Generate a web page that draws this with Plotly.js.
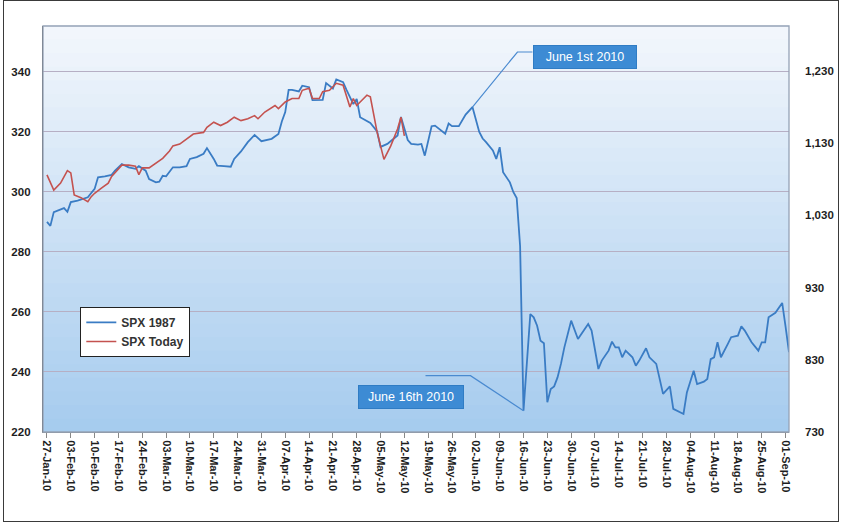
<!DOCTYPE html>
<html>
<head>
<meta charset="utf-8">
<script src="https://cdn.plot.ly/plotly-3.0.1.min.js"></script>
<style>
  body { margin: 0; background: #fff; }
  #chart { position: absolute; left: 0; top: 0; width: 853px; height: 527px; }
  #frame { position: absolute; left: 3px; top: 0; width: 834px; height: 520px;
           border: 1.5px solid #3a3a3a; pointer-events: none; }
</style>
</head>
<body>
<div id="chart"></div>
<div id="frame"></div>
<script>
// days counted from 27-Jan-2010
const startDate = [2010, 0, 27];

const blueName = 'SPX 1987';
const blueDay = [0,1,2,4,5,6,7,9,11,12,
  14,15,17,19,20,22,24,26,27,29,
  30,32,33,34,35,37,39,41,42,44,
  46,47,49,50,52,54,55,57,59,61,
  63,64,66,68,69,70,71,72,74,75,
  77,78,81,82,84,85,87,88,90,91,
  92,95,97,98,100,103,104,106,107,109,
  110,111,113,114,117,118,119,121,123,125,
  127,128,129,131,132,133,134,136,137,138,
  139,140,142,143,144,145,146,147,148,149,
  150,151,152,154,155,156,157,159,160,162,
  163,165,166,167,168,169,170,172,173,174,
  176,177,179,181,183,184,187,188,190,191,
  193,194,195,196,197,198,200,201,203,204,
  205,207,209,210,211,212,214,215,216,217,
  218];
const blueVal = [290,288.7,293.3,294.3,294.6,293.4,296.6,297.1,297.9,298.2,
  301,304.9,305.2,305.7,307.1,309.3,308.2,307.7,308.6,307.1,
  304.3,303.2,303.4,305.4,305.2,308.2,308.2,308.6,311,311.6,
  312.7,314.6,311,308.8,308.6,308.4,311,313.5,316.6,319,
  316.9,317.1,317.7,319.3,323.5,326.6,334,334,333.5,335.4,
  334.9,330.6,330.7,336.3,334.5,337.5,336.6,334,329.3,331,
  324.9,323,320.2,315,316,318.8,325,317.3,316,315.8,
  316,312.1,321.9,322.1,319.4,322.8,321.9,321.9,325.8,328.3,
  320,317.8,316.6,313.8,311,314.9,306.6,303.2,300,298,
  282,227.1,259.3,258.2,255.4,250.4,249.6,229.9,234.3,235.2,
  238.2,242.7,248.2,257.1,254.3,251,252.7,256,253.8,241,
  243.8,247.1,250.1,248.2,248.2,244.9,247.1,244.9,242.1,243.8,
  247.9,244.9,242.7,232.7,235.2,227.7,226,233.2,240.4,236,
  236.8,237.7,244.3,244.9,249.9,244.9,249.3,251.6,252.1,255.2,
  253.8,249.9,247.1,249.9,249.9,258.2,259.7,261.2,263,255,
  246.6];

const redName = 'SPX Today';
const redDay = [0,2,4,6,7,8,10,12,13,14,
  16,18,19,22,24,26,27,28,30,32,
  34,36,37,39,41,43,46,47,49,51,
  53,55,57,59,61,62,64,67,68,70,
  72,74,75,77,78,80,81,83,85,87,
  89,90,91,94,95,97,99,101,103,104,
  105];
const redVal = [1086,1065,1074.5,1091.9,1088.6,1058.2,1054.4,1048.8,1055.8,1060.5,
  1067.5,1074.5,1083.9,1099.4,1099.4,1098,1086.3,1095.6,1095.6,1102.6,
  1108.8,1119,1126,1128.5,1135.5,1142.5,1144.7,1151.8,1158.8,1154.2,
  1158.8,1165.8,1161,1163.6,1168,1163.6,1172.9,1182,1177.6,1186.9,
  1191.6,1191.6,1203,1205.7,1191.6,1191.6,1201,1203,1212.7,1210,
  1179.9,1191.6,1182,1196.3,1194,1144.7,1107.4,1126,1149.5,1165.8,
  1140];

const peakDay = 125;    // June 1st 2010
const troughDay = 140;  // June 16th 2010
const peakText = 'June 1st 2010';
const troughText = 'June 16th 2010';

const toDate = d => new Date(Date.UTC(startDate[0], startDate[1], startDate[2] + d))
  .toISOString().slice(0, 10);

const peakVal = blueVal[blueDay.indexOf(peakDay)];
const troughVal = blueVal[blueDay.indexOf(troughDay)];

const data = [
  {
    x: blueDay.map(toDate), y: blueVal, name: blueName,
    type: 'scatter', mode: 'lines', yaxis: 'y',
    line: { color: '#3a7cc4', width: 1.8 },
  },
  {
    x: redDay.map(toDate), y: redVal, name: redName,
    type: 'scatter', mode: 'lines', yaxis: 'y2',
    line: { color: '#c4524f', width: 1.6 },
  },
];

// plot background: light at top, blue at bottom
const bgShapes = [];
const steps = 30;
const topRgb = [243, 247, 252], bottomRgb = [165, 203, 238];
for (let i = 0; i < steps; i++) {
  const t = (i + 0.5) / steps;
  const c = bottomRgb.map((b, k) => Math.round(b + (topRgb[k] - b) * t));
  bgShapes.push({
    type: 'rect', xref: 'paper', yref: 'paper', layer: 'below',
    x0: 0, x1: 1, y0: i / steps, y1: (i + 1) / steps + 0.002,
    fillcolor: `rgb(${c.join(',')})`, line: { width: 0 },
  });
}

const connector = (day, val, path) => ({
  type: 'path', xref: 'x', yref: 'y',
  xsizemode: 'pixel', ysizemode: 'pixel',
  xanchor: toDate(day), yanchor: val, path,
  line: { color: '#4a8ad0', width: 1.2 },
});

const shapes = bgShapes.concat([
  {
    type: 'rect', xref: 'paper', yref: 'paper', layer: 'above',
    x0: 0, x1: 1, y0: 0, y1: 1, line: { color: '#95a2b6', width: 1.3 },
  },
  connector(peakDay, peakVal, 'M0,0 L45,55 L60,55'),
  connector(troughDay, troughVal, 'M0,0 L-53,35 L-98,35'),
]);

const boxFont = { family: 'Liberation Sans Narrow, Arial Narrow, Arial, sans-serif', size: 12.5, color: '#fff' };

const annotations = [
  {
    xref: 'x', yref: 'y', x: toDate(peakDay), y: peakVal,
    xshift: 113, yshift: 50, showarrow: false, text: peakText,
    width: 100, height: 20, bgcolor: '#3d8bd4', bordercolor: '#2f7cc4',
    borderwidth: 1, font: boxFont,
  },
  {
    xref: 'x', yref: 'y', x: toDate(troughDay), y: troughVal,
    xshift: -113, yshift: 14, showarrow: false, text: troughText,
    width: 102, height: 20, bgcolor: '#3d8bd4', bordercolor: '#2f7cc4',
    borderwidth: 1, font: boxFont,
  },
];

const tickFont = { family: 'Arial, Liberation Sans, sans-serif', size: 11.5, color: '#1e1e1e', weight: 'bold' };

const layout = {
  width: 853, height: 527,
  margin: { l: 43, r: 64, t: 26, b: 95 },
  paper_bgcolor: 'rgba(0,0,0,0)',
  plot_bgcolor: 'rgba(0,0,0,0)',
  showlegend: true,
  legend: {
    x: 0.05, y: 0.308, xanchor: 'left', yanchor: 'top',
    bgcolor: '#fff', bordercolor: '#222', borderwidth: 1,
    font: { family: 'Arial, sans-serif', size: 12, color: '#333', weight: 'bold' },
    tracegroupgap: 0, itemwidth: 30,
  },
  xaxis: {
    type: 'date',
    range: ['2010-01-25 20:00', '2010-09-02'],
    tick0: '2010-01-27', dtick: 7 * 86400000, tickformat: '%d-%b-%y',
    tickangle: 90, ticks: 'outside', ticklen: 5, tickcolor: '#888',
    showline: true, linecolor: '#8a8a8a', linewidth: 1.2,
    showgrid: false, zeroline: false,
    tickfont: { ...tickFont, size: 11 },
  },
  yaxis: {
    range: [220, 355.3], tick0: 220, dtick: 20,
    showgrid: true, gridcolor: '#b6afc4', gridwidth: 1,
    showline: true, linecolor: '#5a5a5a', linewidth: 1.3,
    zeroline: false, ticks: '', ticklabelstandoff: 9,
    tickfont: tickFont,
  },
  yaxis2: {
    overlaying: 'y', side: 'right',
    range: [730, 1292], tick0: 730, dtick: 100, tickformat: ',d',
    showgrid: false, showline: false, zeroline: false, ticks: '',
    ticklabelstandoff: 15,
    tickfont: tickFont,
  },
  shapes,
  annotations,
};

Plotly.newPlot('chart', data, layout, { displayModeBar: false, responsive: false });
</script>
</body>
</html>
